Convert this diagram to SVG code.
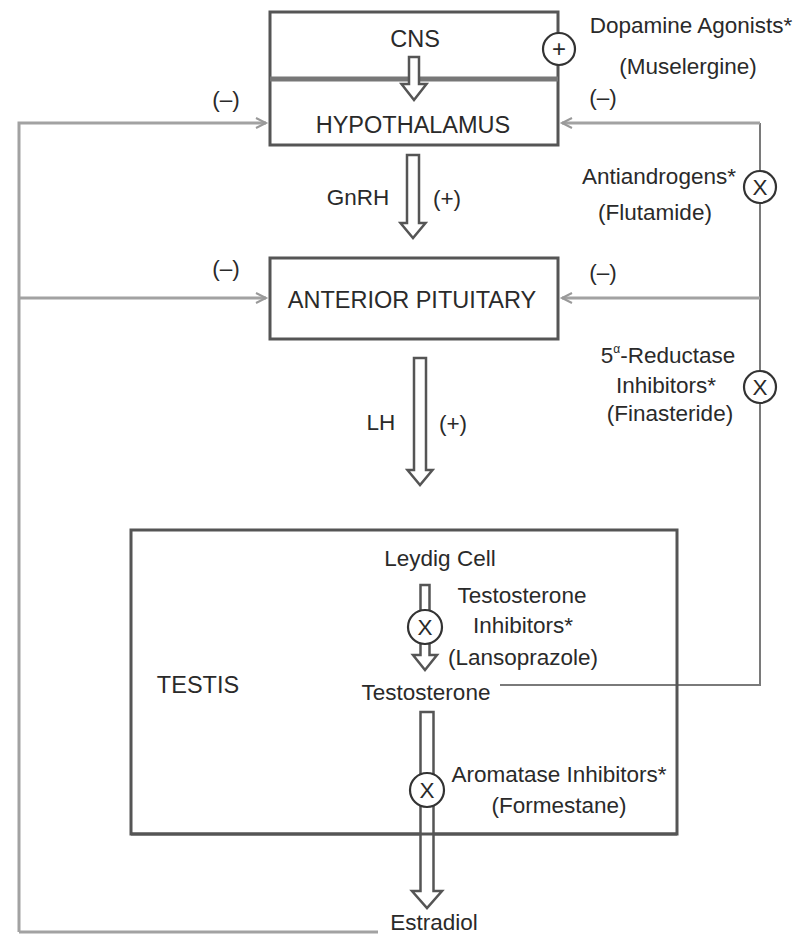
<svg xmlns="http://www.w3.org/2000/svg" width="799" height="938" viewBox="0 0 799 938">
<style>
text{font-family:"Liberation Sans",Arial,sans-serif;font-size:22.5px;fill:#2a2a2a;text-anchor:middle}
.cap{font-size:23.5px}
.box{fill:#fff;stroke:#555;stroke-width:3}
.harrow{fill:#fff;stroke:#555;stroke-width:2.5;stroke-linejoin:miter}
.circ{fill:#fff;stroke:#333;stroke-width:2.2}
.fb{fill:none;stroke:#a2a2a2;stroke-width:3}
.fb2{fill:none;stroke:#7a7a7a;stroke-width:2}
</style>
<defs>
<marker id="chev" markerUnits="userSpaceOnUse" markerWidth="14" markerHeight="14" refX="11" refY="6" orient="auto">
<path d="M1,1 L11,6 L1,11" fill="none" stroke="#999" stroke-width="2"/>
</marker>
</defs>

<g id="connectors">
<path class="fb" d="M19,932 L19,123 L266,123" marker-end="url(#chev)"/>
<path class="fb" d="M19,298 L266,298" marker-end="url(#chev)"/>
<path class="fb" d="M19,932 L378,932"/>
<path class="fb2" d="M500,685 L760,685 L760,123"/>
<path class="fb" d="M760,123 L562,123" marker-end="url(#chev)"/>
<path class="fb" d="M760,298 L562,298" marker-end="url(#chev)"/>
</g>

<g id="cns-hypothalamus">
<rect class="box" x="270" y="12" width="288" height="133"/>
<line x1="270" y1="79" x2="558" y2="79" stroke="#777" stroke-width="5"/>
<text class="cap" x="415" y="47">CNS</text>
<polygon class="harrow" points="409,57 419,57 419,84 426.5,84 414,100 401.5,84 409,84"/>
<text class="cap" x="413" y="133">HYPOTHALAMUS</text>
</g>

<g id="dopamine-agonists">
<circle class="circ" cx="559" cy="49" r="16"/>
<text x="559" y="57" style="font-size:24px">+</text>
<text x="691" y="33">Dopamine Agonists*</text>
<text x="688" y="74">(Muselergine)</text>
</g>

<g id="gnrh">
<polygon class="harrow" points="407,155 419,155 419,223 425.5,223 413,238 400.5,223 407,223"/>
<text x="358" y="205">GnRH</text>
<text x="447" y="206">(+)</text>
</g>

<g id="anterior-pituitary">
<rect class="box" x="270" y="258" width="288" height="81"/>
<text class="cap" x="412" y="308">ANTERIOR PITUITARY</text>
</g>

<g id="lh">
<polygon class="harrow" points="414,358 426,358 426,470 432.5,470 420,485 407.5,470 414,470"/>
<text x="381" y="430">LH</text>
<text x="453" y="431">(+)</text>
</g>

<g id="feedback-labels">
<text x="226" y="107">(–)</text>
<text x="226" y="276">(–)</text>
<text x="603" y="105">(–)</text>
<text x="603" y="280">(–)</text>
</g>

<g id="antiandrogens">
<circle class="circ" cx="760" cy="187" r="16"/>
<text x="760" y="195">X</text>
<text x="659" y="184">Antiandrogens*</text>
<text x="655" y="220">(Flutamide)</text>
</g>

<g id="reductase">
<circle class="circ" cx="760" cy="387" r="16"/>
<text x="760" y="395">X</text>
<text x="668" y="363">5<tspan font-size="12" dy="-10">α</tspan><tspan dy="10">-Reductase</tspan></text>
<text x="666" y="393">Inhibitors*</text>
<text x="670" y="421">(Finasteride)</text>
</g>

<g id="testis">
<rect class="box" x="131" y="530" width="546" height="304" style="fill:none"/>
<text class="cap" x="198" y="693">TESTIS</text>
<text x="440" y="566">Leydig Cell</text>
<text x="426" y="700">Testosterone</text>
</g>

<g id="testosterone-inhibitors">
<polygon class="harrow" points="420.5,585 429.5,585 429.5,655 437,655 425,670 413,655 420.5,655"/>
<circle class="circ" cx="425" cy="627" r="17"/>
<text x="425" y="635">X</text>
<text x="522" y="603">Testosterone</text>
<text x="523" y="633">Inhibitors*</text>
<text x="523" y="665">(Lansoprazole)</text>
</g>

<g id="aromatase">
<polygon class="harrow" points="420.5,712 433.5,712 433.5,891 442,891 427,908 412,891 420.5,891"/>
<line x1="131" y1="834" x2="677" y2="834" stroke="#555" stroke-width="3"/>
<circle class="circ" cx="427" cy="790" r="17"/>
<text x="427" y="798">X</text>
<text x="559" y="782">Aromatase Inhibitors*</text>
<text x="559" y="813">(Formestane)</text>
</g>

<g id="estradiol">
<text x="434" y="930">Estradiol</text>
</g>
</svg>
